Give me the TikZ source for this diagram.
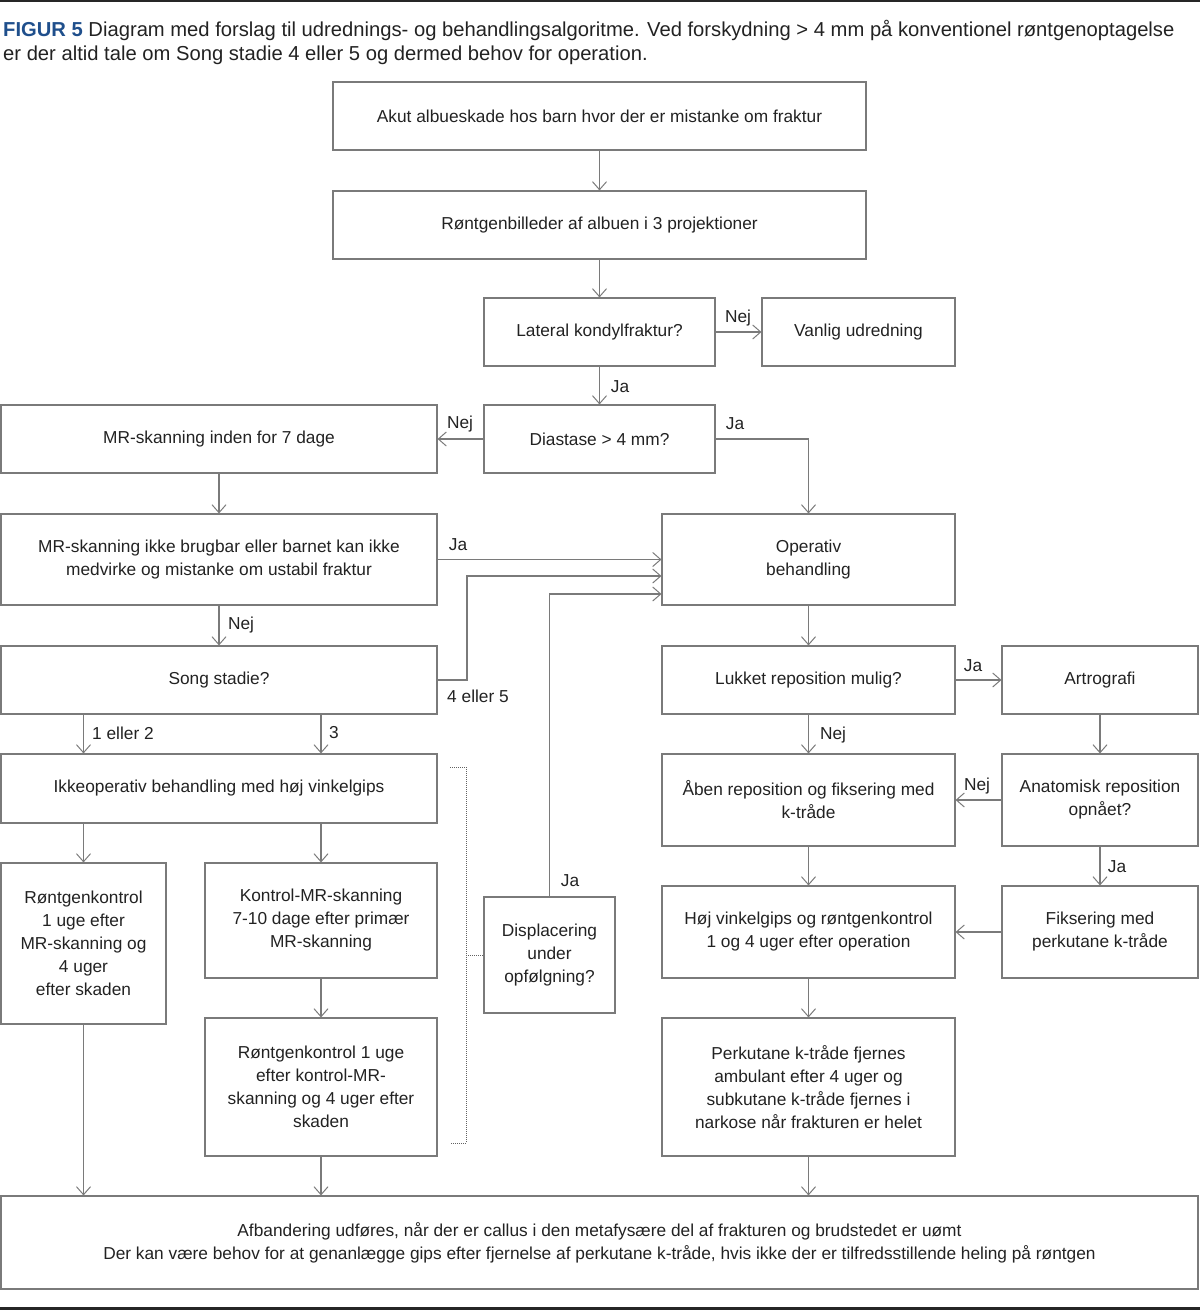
\documentclass[tikz,border=0pt]{standalone}
\usepackage{fontspec}
\setmainfont{Liberation Sans}
\usetikzlibrary{arrows.meta,calc}
\definecolor{linec}{HTML}{7A7A7A}
\definecolor{txtc}{HTML}{222222}
\definecolor{figblue}{HTML}{1F4F8C}
\begin{document}
\begin{tikzpicture}[x=1pt,y=-1pt,
  every node/.style={text=txtc,font=\fontsize{17.3}{23}\selectfont},
  box/.style={draw=linec,line width=1.1pt,align=center,inner sep=0pt,anchor=center},
  arr/.style={draw=linec,line width=1.1pt,-{Straight Barb[length=8pt,width=14pt,line width=1pt]}},
  lbl/.style={inner sep=0pt,anchor=center},
  brk/.style={draw=linec!80!black,line width=1pt,dash pattern=on 1pt off 1pt}]
\useasboundingbox (0,0) rectangle (1200,1311);
\fill[black!85] (0,0) rectangle (1200,2.5);
\fill[black!85] (0,1307) rectangle (1200,1310);
% title
\node[anchor=base west,inner sep=0pt,font=\fontsize{20.2}{24}\selectfont] (t1) at (3,37) {\textcolor{figblue}{\textbf{FIGUR 5}} Diagram med forslag til udrednings- og behandlingsalgoritme. Ved forskydning > 4 mm på konventionel røntgenoptagelse};
\node[anchor=base west,inner sep=0pt,font=\fontsize{20.2}{24}\selectfont] (t2) at (3,61) {er der altid tale om Song stadie 4 eller 5 og dermed behov for operation.};
% boxes
\node[box,minimum width=533,minimum height=68] (akut) at (599.5,116) {Akut albueskade hos barn hvor der er mistanke om fraktur};
\node[box,minimum width=533,minimum height=68] (rtg) at (599.5,225) {Røntgenbilleder af albuen i 3 projektioner};
\node[box,minimum width=231,minimum height=68] (lat) at (599.5,332) {Lateral kondylfraktur?};
\node[box,minimum width=193,minimum height=68] (van) at (858.5,332) {Vanlig udredning};
\node[box,minimum width=231,minimum height=68] (dia) at (599.5,439) {Diastase > 4 mm?};
\node[box,minimum width=436,minimum height=68] (mr1) at (219,439) {MR-skanning inden for 7 dage};
\node[box,minimum width=436,minimum height=91] (mr2) at (219,559.5) {MR-skanning ikke brugbar eller barnet kan ikke\\medvirke og mistanke om ustabil fraktur};
\node[box,minimum width=293,minimum height=91] (op) at (808.5,559.5) {Operativ\\behandling};
\node[box,minimum width=436,minimum height=68] (song) at (219,680) {Song stadie?};
\node[box,minimum width=293,minimum height=68] (luk) at (808.5,680) {Lukket reposition mulig?};
\node[box,minimum width=196,minimum height=68] (art) at (1100,680) {Artrografi};
\node[box,minimum width=436,minimum height=69] (ikke) at (219,788.5) {Ikkeoperativ behandling med høj vinkelgips};
\node[box,minimum width=293,minimum height=92] (aben) at (808.5,800) {Åben reposition og fiksering med\\k-tråde};
\node[box,minimum width=196,minimum height=92] (anat) at (1100,800) {Anatomisk reposition\\opnået?};
\node[box,minimum width=165,minimum height=161] (r1) at (83.5,943.5) {Røntgenkontrol\\1 uge efter\\MR-skanning og\\4 uger\\efter skaden};
\node[box,minimum width=232,minimum height=115] (kmr) at (321,920.5) {Kontrol-MR-skanning\\7-10 dage efter primær\\MR-skanning};
\node[box,minimum width=131,minimum height=116] (disp) at (549.5,955) {Displacering\\under\\opfølgning?};
\node[box,minimum width=293,minimum height=92] (hoj) at (808.5,932) {Høj vinkelgips og røntgenkontrol\\1 og 4 uger efter operation};
\node[box,minimum width=196,minimum height=92] (fik) at (1100,932) {Fiksering med\\perkutane k-tråde};
\node[box,minimum width=232,minimum height=138] (r2) at (321,1087) {Røntgenkontrol 1 uge\\efter kontrol-MR-\\skanning og 4 uger efter\\skaden};
\node[box,minimum width=293,minimum height=138] (perk) at (808.5,1087) {Perkutane k-tråde fjernes\\ambulant efter 4 uger og\\subkutane k-tråde fjernes i\\narkose når frakturen er helet};
\node[box,minimum width=1197,minimum height=93] (afb) at (599.5,1242.5) {Afbandering udføres, når der er callus i den metafysære del af frakturen og brudstedet er uømt\\Der kan være behov for at genanlægge gips efter fjernelse af perkutane k-tråde, hvis ikke der er tilfredsstillende heling på røntgen};
% junction coordinates
\coordinate (j1) at (467,576);
\coordinate (j2) at (549.5,594);
% connectors
\draw[arr] (akut) -- (rtg);
\draw[arr] (rtg) -- (lat);
\draw[arr] (lat) -- (van);
\draw[arr] (lat) -- (dia);
\draw[arr] (dia) -- (mr1);
\draw[arr] (dia.east) -| (op.north);
\draw[arr] (mr1) -- (mr2);
\draw[arr] (mr2) -- (op);
\draw[arr] (mr2) -- (song);
\draw[arr] (song.east) -| (j1) -- (j1 -| op.west);
\draw[arr] (disp.north) -- (j2) -- (j2 -| op.west);
\draw[arr] (song.south -| r1.north) -- (ikke.north -| r1.north);
\draw[arr] (song.south -| kmr.north) -- (ikke.north -| kmr.north);
\draw[arr] (ikke.south -| r1.north) -- (r1.north);
\draw[arr] (ikke.south -| kmr.north) -- (kmr.north);
\draw[arr] (kmr) -- (r2);
\draw[arr] (r1.south) -- (r1.south |- afb.north);
\draw[arr] (r2.south) -- (r2.south |- afb.north);
\draw[arr] (perk.south) -- (perk.south |- afb.north);
\draw[arr] (op) -- (luk);
\draw[arr] (luk) -- (art);
\draw[arr] (luk) -- (aben);
\draw[arr] (art) -- (anat);
\draw[arr] (anat) -- (aben);
\draw[arr] (anat) -- (fik);
\draw[arr] (fik) -- (hoj);
\draw[arr] (aben) -- (hoj);
\draw[arr] (hoj) -- (perk);
% dotted bracket
\coordinate (b1) at (450,767);
\coordinate (b2) at (466,767);
\coordinate (b3) at (466,1143);
\coordinate (b4) at (450,1143);
\draw[brk] (b1) -- (b2) -- (b3) -- (b4);
\draw[brk] (b2 |- disp.west) -- (disp.west);
% labels
\node[lbl] (l1) at (738,318) {Nej};
\node[lbl] (l2) at (620,387) {Ja};
\node[lbl] (l3) at (460,424) {Nej};
\node[lbl] (l4) at (735,424) {Ja};
\node[lbl] (l5) at (458,545) {Ja};
\node[lbl] (l6) at (241,625) {Nej};
\node[lbl,anchor=west] (l7) at (92,733) {1 eller 2};
\node[lbl,anchor=west] (l8) at (329,733) {3};
\node[lbl] (l9) at (478,696) {4 eller 5};
\node[lbl] (l10) at (570,881) {Ja};
\node[lbl] (l11) at (973,666) {Ja};
\node[lbl] (l12) at (833,735) {Nej};
\node[lbl] (l13) at (977,786) {Nej};
\node[lbl] (l14) at (1117,867) {Ja};
\end{tikzpicture}
\end{document}
